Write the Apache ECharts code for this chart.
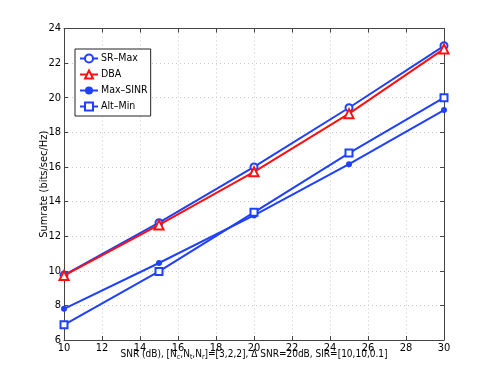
<!DOCTYPE html>
<html><head><meta charset="utf-8">
<script src="https://cdn.jsdelivr.net/npm/echarts@6/dist/echarts.min.js"></script>
<style>html,body{margin:0;padding:0;background:#fff}#c{width:491px;height:382px}</style>
</head><body><div id="c"></div>
<script>
const snr = [10, 15, 20, 25, 30];
const srMax = [9.75, 12.78, 16.0, 19.42, 23.0];
const dba = [9.72, 12.65, 15.72, 19.08, 22.82];
const maxSinr = [7.8, 10.45, 13.2, 16.16, 19.29];
const altMin = [6.88, 9.96, 13.38, 16.8, 20.0];
const xTicks = [10, 12, 14, 16, 18, 20, 22, 24, 26, 28, 30];
const yTicks = [6, 8, 10, 12, 14, 16, 18, 20, 22, 24];

const FONT = '"DejaVu Sans Condensed", "Liberation Sans", sans-serif';
const FS = 10;
const BLUE = '#2040ff';
const RED = '#ff1010';
const pts = arr => snr.map((x, i) => [x, arr[i]]);
const gridLine = {show: true, lineStyle: {color: '#c8c8c8', type: [1, 3], width: 1}};

const chart = echarts.init(document.getElementById('c'), null, {renderer: 'canvas'});
chart.setOption({
  animation: false,
  textStyle: {fontFamily: FONT},
  grid: {left: 64, right: 47, top: 28.5, bottom: 42, containLabel: false},
  legend: {
    orient: 'vertical', left: 75, top: 49,
    backgroundColor: '#fff', borderColor: '#222', borderWidth: 1,
    padding: [4, 3, 4, 4], itemGap: 5, itemWidth: 18, itemHeight: 10,
    textStyle: {fontFamily: FONT, fontSize: 10.5, color: '#000', padding: [0, 0, 0, -2]},
    data: ['SR\u2013Max', 'DBA', 'Max\u2013SINR', 'Alt\u2013Min']
  },
  xAxis: [{
    type: 'value', min: xTicks[0], max: xTicks[xTicks.length - 1], interval: 2,
    axisLine: {lineStyle: {color: '#444', width: 1}},
    axisTick: {inside: true, length: 4, lineStyle: {color: '#444'}},
    axisLabel: {color: '#000', fontSize: 11, fontFamily: FONT, margin: 3},
    splitLine: gridLine,
    name: '{a|SNR (dB), [N}{s|c}{a|,N}{s|t}{a|,N}{s|r}{a|]=[3,2,2], \u0394 SNR=20dB, SIR=[10,10,0.1]}',
    nameLocation: 'middle', nameGap: 8, nameMoveOverlap: false,
    nameTextStyle: {
      rich: {
        a: {fontFamily: FONT, fontSize: FS, color: '#000'},
        s: {fontFamily: FONT, fontSize: 7, color: '#000', padding: [6, 0, 0, 0]}
      }
    }
  }, {
    type: 'value', position: 'top', min: 10, max: 30, interval: 2,
    axisLine: {show: true, onZero: false, lineStyle: {color: '#444', width: 1}},
    axisTick: {inside: true, length: 4, lineStyle: {color: '#444'}},
    axisLabel: {show: false}, splitLine: {show: false}
  }],
  yAxis: [{
    type: 'value', min: yTicks[0], max: yTicks[yTicks.length - 1], interval: 2,
    axisLine: {show: true, lineStyle: {color: '#444', width: 1}},
    axisTick: {show: true, inside: true, length: 4, lineStyle: {color: '#444'}},
    axisLabel: {color: '#000', fontSize: 11, fontFamily: FONT, margin: 3},
    splitLine: gridLine,
    name: 'Sumrate (bits/sec/Hz)', nameLocation: 'middle', nameGap: 14, nameMoveOverlap: false,
    nameTextStyle: {fontFamily: FONT, fontSize: 11, color: '#000'}
  }, {
    type: 'value', position: 'right', min: 6, max: 24, interval: 2,
    axisLine: {show: true, onZero: false, lineStyle: {color: '#444', width: 1}},
    axisTick: {show: true, inside: true, length: 4, lineStyle: {color: '#444'}},
    axisLabel: {show: false}, splitLine: {show: false}
  }],
  series: [
    {name: 'SR\u2013Max', type: 'line', data: pts(srMax), symbol: 'emptyCircle', symbolSize: 7,
     color: BLUE, lineStyle: {width: 2, color: BLUE}, itemStyle: {color: BLUE, borderWidth: 1.5}, z: 3},
    {name: 'DBA', type: 'line', data: pts(dba), symbol: 'emptyTriangle', symbolSize: 9,
     color: RED, lineStyle: {width: 2, color: RED}, itemStyle: {color: RED, borderWidth: 1.5}, z: 4},
    {name: 'Max\u2013SINR', type: 'line', data: pts(maxSinr), symbol: 'circle', symbolSize: 6,
     color: BLUE, lineStyle: {width: 2, color: BLUE}, itemStyle: {color: BLUE}, z: 3},
    {name: 'Alt\u2013Min', type: 'line', data: pts(altMin), symbol: 'emptyRect', symbolSize: 7,
     color: BLUE, lineStyle: {width: 2, color: BLUE}, itemStyle: {color: BLUE, borderWidth: 1.5}, z: 3}
  ]
});
</script></body></html>
